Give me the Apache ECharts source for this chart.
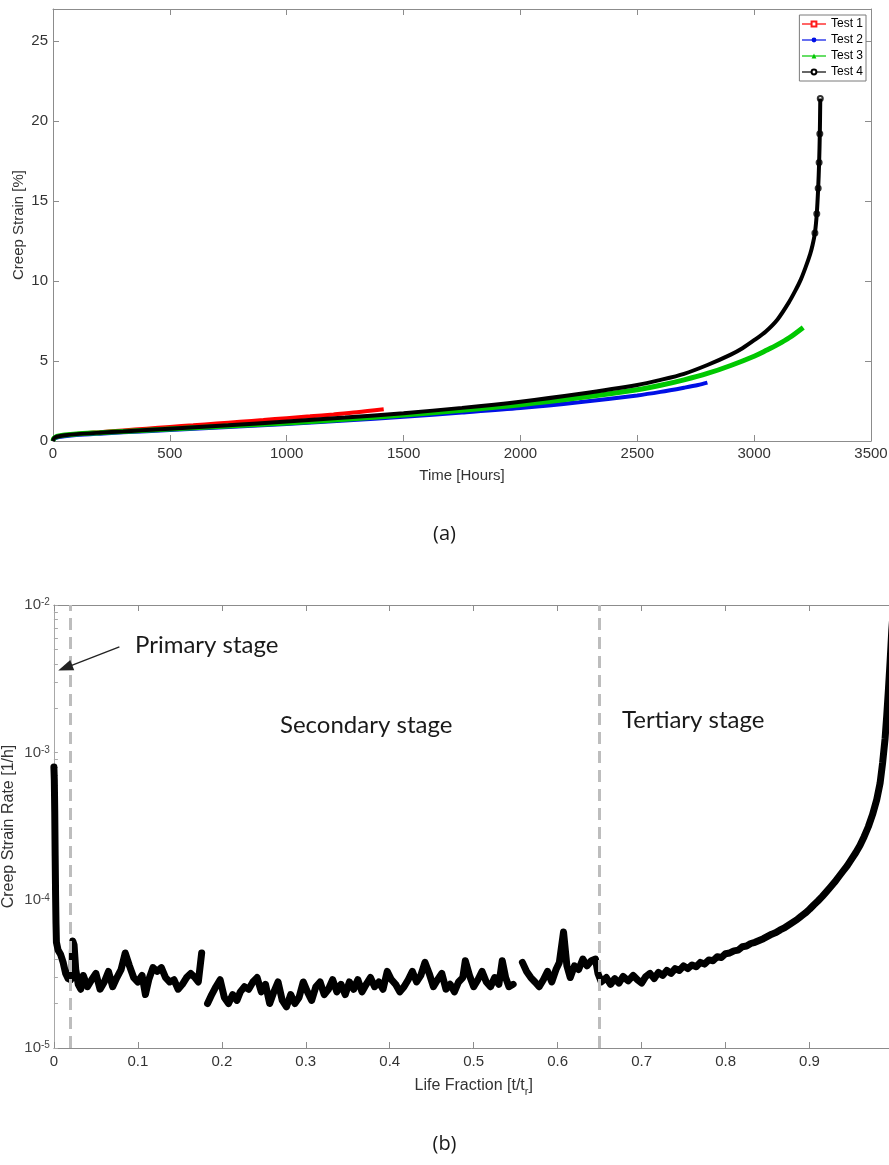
<!DOCTYPE html>
<html><head><meta charset="utf-8">
<script src="https://cdn.jsdelivr.net/npm/echarts@6/dist/echarts.min.js"></script>
<style>html,body{margin:0;padding:0;background:#fff}#c{width:889px;height:1165px}</style>
</head><body><div id="c"></div>
<script>
// ---------- (a) creep strain vs time ----------
const test1 = [[0,0],[3,0.12],[10,0.22],[25,0.3],[50,0.37],[100,0.44],[150,0.5],[200,0.55],[300,0.66],[400,0.77],[500,0.88],[600,0.98],[700,1.09],[800,1.2],[900,1.31],[1000,1.43],[1100,1.54],[1200,1.66],[1300,1.79],[1415,1.98]];
const test2 = [[0,0],[3,0.1],[10,0.18],[25,0.25],[50,0.3],[100,0.37],[200,0.46],[300,0.54],[500,0.69],[750,0.87],[1000,1.06],[1250,1.28],[1500,1.52],[1750,1.78],[2000,2.06],[2250,2.42],[2500,2.85],[2600,3.07],[2700,3.33],[2760,3.5],[2800,3.65]];
const test3 = [[0,0],[3,0.15],[10,0.24],[25,0.31],[50,0.37],[100,0.44],[200,0.52],[300,0.6],[500,0.75],[750,0.94],[1000,1.13],[1250,1.36],[1500,1.62],[1750,1.92],[2000,2.27],[2250,2.7],[2500,3.2],[2600,3.48],[2700,3.82],[2800,4.22],[2900,4.72],[3000,5.3],[3050,5.65],[3100,6.02],[3150,6.45],[3210,7.1]];
const test4 = [[0,0],[3,0.14],[10,0.23],[25,0.3],[50,0.36],[100,0.43],[200,0.52],[300,0.6],[500,0.77],[750,0.98],[1000,1.22],[1250,1.47],[1500,1.74],[1750,2.07],[2000,2.46],[2250,2.94],[2500,3.5],[2600,3.82],[2700,4.2],[2800,4.75],[2900,5.4],[2950,5.8],[3000,6.3],[3050,6.85],[3100,7.6],[3150,8.7],[3180,9.5],[3200,10.1],[3220,10.85],[3240,11.7],[3250,12.25],[3260,13.0],[3268,14.2],[3274,15.8],[3278,17.4],[3281,19.2],[3283,21.4]];
const timeTicks = [0,500,1000,1500,2000,2500,3000,3500];
const strainTicks = [0,5,10,15,20,25];

// ---------- (b) creep strain rate vs life fraction ----------
const primaryStage = [[0,8e-4],[0.0005,6.5e-4],[0.001,4e-4],[0.0015,2e-4],[0.002,1.1e-4],[0.0025,7e-5],[0.003,5.2e-5],[0.005,4.6e-5],[0.008,4.3e-5],[0.011,3.8e-5],[0.014,3.2e-5],[0.017,2.95e-5],[0.02,2.9e-5],[0.0215,3.0e-5],[0.022,4.5e-5],[0.0225,5.3e-5],[0.024,5.0e-5],[0.026,3.4e-5],[0.029,2.7e-5],[0.032,2.5e-5]];
const secondaryStage = [[0.035,3.1e-5],[0.04,2.6e-5],[0.045,2.9e-5],[0.05,3.2e-5],[0.055,2.5e-5],[0.06,2.8e-5],[0.065,3.3e-5],[0.07,2.6e-5],[0.075,3.0e-5],[0.08,3.4e-5],[0.085,4.4e-5],[0.09,3.6e-5],[0.095,3.0e-5],[0.1,2.8e-5],[0.105,3.1e-5],[0.109,2.3e-5],[0.113,2.9e-5],[0.118,3.5e-5],[0.123,3.3e-5],[0.128,3.5e-5],[0.133,3.0e-5],[0.138,2.8e-5],[0.143,2.9e-5],[0.148,2.5e-5],[0.153,2.7e-5],[0.158,3.0e-5],[0.163,3.2e-5],[0.168,3.0e-5],[0.172,2.8e-5],[0.176,4.4e-5],[0.178,'-'],[0.183,2.0e-5],[0.188,2.3e-5],[0.193,2.6e-5],[0.198,2.9e-5],[0.203,2.2e-5],[0.208,2.0e-5],[0.213,2.3e-5],[0.218,2.1e-5],[0.222,2.4e-5],[0.227,2.6e-5],[0.232,2.5e-5],[0.237,2.8e-5],[0.242,3.0e-5],[0.247,2.4e-5],[0.252,2.7e-5],[0.257,2.0e-5],[0.262,2.4e-5],[0.267,2.8e-5],[0.272,2.1e-5],[0.277,1.9e-5],[0.282,2.3e-5],[0.287,2.0e-5],[0.292,2.2e-5],[0.297,2.8e-5],[0.302,2.4e-5],[0.307,2.1e-5],[0.312,2.6e-5],[0.317,2.8e-5],[0.322,2.3e-5],[0.327,2.5e-5],[0.332,2.9e-5],[0.337,2.4e-5],[0.342,2.7e-5],[0.347,2.3e-5],[0.352,2.8e-5],[0.357,2.5e-5],[0.362,2.9e-5],[0.367,2.4e-5],[0.372,2.7e-5],[0.377,3.0e-5],[0.382,2.6e-5],[0.387,2.8e-5],[0.392,2.5e-5],[0.397,3.3e-5],[0.402,2.9e-5],[0.407,2.7e-5],[0.412,2.4e-5],[0.417,2.6e-5],[0.422,2.9e-5],[0.427,3.3e-5],[0.432,2.8e-5],[0.437,3.1e-5],[0.442,3.8e-5],[0.447,3.2e-5],[0.452,2.6e-5],[0.457,2.9e-5],[0.462,3.2e-5],[0.467,2.5e-5],[0.472,2.7e-5],[0.477,2.4e-5],[0.482,2.8e-5],[0.487,3.0e-5],[0.49,3.9e-5],[0.495,3.1e-5],[0.5,2.6e-5],[0.505,2.9e-5],[0.51,3.3e-5],[0.515,2.8e-5],[0.52,2.6e-5],[0.525,3.0e-5],[0.53,2.7e-5],[0.534,3.9e-5],[0.538,3.0e-5],[0.542,2.6e-5],[0.547,2.7e-5],[0.549,'-'],[0.552,4.3e-5],[0.555,'-'],[0.558,3.8e-5],[0.563,3.3e-5],[0.568,3.0e-5],[0.573,2.8e-5],[0.578,2.6e-5],[0.583,2.9e-5],[0.588,3.3e-5],[0.593,2.8e-5],[0.598,3.4e-5],[0.602,3.8e-5],[0.607,6.1e-5],[0.611,3.6e-5],[0.615,3.0e-5],[0.62,3.6e-5],[0.625,3.4e-5],[0.63,4.0e-5],[0.635,3.6e-5],[0.64,3.9e-5],[0.645,4.0e-5],[0.648,3.2e-5]];
const tertiaryStage = [[0.652,2.8e-5],[0.658,3.0e-5],[0.663,2.7e-5],[0.668,2.95e-5],[0.673,2.75e-5],[0.678,3.05e-5],[0.684,2.85e-5],[0.69,3.1e-5],[0.695,2.9e-5],[0.7,2.75e-5],[0.705,3.05e-5],[0.71,3.2e-5],[0.715,2.95e-5],[0.72,3.25e-5],[0.725,3.1e-5],[0.73,3.35e-5],[0.735,3.2e-5],[0.74,3.45e-5],[0.745,3.35e-5],[0.75,3.6e-5],[0.755,3.45e-5],[0.76,3.65e-5],[0.765,3.55e-5],[0.77,3.8e-5],[0.775,3.7e-5],[0.78,3.95e-5],[0.785,3.9e-5],[0.79,4.15e-5],[0.795,4.1e-5],[0.8,4.35e-5],[0.805,4.4e-5],[0.81,4.55e-5],[0.815,4.6e-5],[0.82,4.85e-5],[0.825,4.9e-5],[0.83,5.1e-5],[0.835,5.2e-5],[0.84,5.35e-5],[0.845,5.5e-5],[0.85,5.7e-5],[0.855,5.9e-5],[0.86,6.05e-5],[0.865,6.3e-5],[0.87,6.5e-5],[0.875,6.8e-5],[0.88,7.1e-5],[0.885,7.4e-5],[0.89,7.8e-5],[0.895,8.2e-5],[0.9,8.7e-5],[0.905,9.3e-5],[0.91,9.9e-5],[0.915,1.06e-4],[0.92,1.14e-4],[0.925,1.23e-4],[0.93,1.33e-4],[0.935,1.45e-4],[0.94,1.58e-4],[0.945,1.72e-4],[0.95,1.9e-4],[0.955,2.1e-4],[0.96,2.35e-4],[0.965,2.7e-4],[0.97,3.15e-4],[0.975,3.8e-4],[0.98,4.8e-4],[0.984,6.2e-4],[0.987,8.5e-4],[0.99,1.25e-3],[0.992,1.8e-3],[0.994,2.7e-3],[0.996,4.2e-3],[0.998,6.8e-3],[1.0,9.8e-3]];
const stageBounds = [0.02, 0.65];
const fractionTicks = [0,0.1,0.2,0.3,0.4,0.5,0.6,0.7,0.8,0.9,1];
const rateMajorTicks = [1e-5,1e-4,1e-3,1e-2];
const rateMinorTicks = [2e-5,3e-5,4e-5,5e-5,6e-5,7e-5,8e-5,9e-5,2e-4,3e-4,4e-4,5e-4,6e-4,7e-4,8e-4,9e-4,2e-3,3e-3,4e-3,5e-3,6e-3,7e-3,8e-3,9e-3];
const stageLabels = ['Primary stage','Secondary stage','Tertiary stage'];
const arrowFrom = [0.078, 5.2e-3];
const arrowTo = [0.0135, 3.75e-3];

const FONT = '"Liberation Sans", Arial, sans-serif';
const AX = '#8c8c8c';
const LBL = '#333333';

const chart = echarts.init(document.getElementById('c'));

function boxAxis(grid, pos, extra) {
  return Object.assign({
    gridIndex: grid, type: 'value', position: pos, nameMoveOverlap: false,
    axisLine: {show: true, onZero: false, lineStyle: {color: AX, width: 1}},
    axisTick: {show: true, inside: true, length: 6, lineStyle: {color: AX}},
    axisLabel: {show: false},
    splitLine: {show: false}
  }, extra);
}
const lblStyle = {fontFamily: FONT, fontSize: 15, color: LBL};

const option = {
  animation: false,
  backgroundColor: '#ffffff',
  grid: [
    {left: 53, right: 18, top: 9, bottom: 724, containLabel: false, outerBoundsMode: 'none'},
    {left: 53.9, right: -4.5, top: 605, bottom: 117, containLabel: false, outerBoundsMode: 'none'}
  ],
  xAxis: [
    boxAxis(0, 'bottom', {min: 0, max: 3500, interval: 500,
      name: 'Time [Hours]', nameLocation: 'middle', nameGap: 27,
      nameTextStyle: {fontFamily: FONT, fontSize: 15, color: LBL},
      axisLabel: Object.assign({show: true, margin: 5, formatter: v => String(v)}, lblStyle)}),
    boxAxis(0, 'top', {min: 0, max: 3500, interval: 500}),
    boxAxis(1, 'bottom', {min: 0, max: 1, interval: 0.1,
      name: '{n|Life Fraction [t/t}{r|r}{n|]}', nameLocation: 'middle', nameGap: 27,
      nameTextStyle: {rich: {
        n: {fontFamily: FONT, fontSize: 16, color: LBL, lineHeight: 22, verticalAlign: 'middle'},
        r: {fontFamily: FONT, fontSize: 11, color: LBL, lineHeight: 10, verticalAlign: 'bottom', padding: [12,0,0,0]}
      }},
      axisLabel: Object.assign({show: true, margin: 6, showMaxLabel: false, formatter: v => String(+v.toFixed(1))}, lblStyle)}),
    boxAxis(1, 'top', {min: 0, max: 1, interval: 0.1})
  ],
  yAxis: [
    boxAxis(0, 'left', {min: 0, max: 27, interval: 5,
      name: 'Creep Strain [%]', nameLocation: 'middle', nameGap: 27,
      nameTextStyle: {fontFamily: FONT, fontSize: 15, color: LBL},
      axisLabel: Object.assign({show: true, margin: 5, showMaxLabel: false}, lblStyle)}),
    boxAxis(0, 'right', {min: 0, max: 27, interval: 5}),
    {
      gridIndex: 1, type: 'log', logBase: 10, min: 1e-5, max: 1e-2, position: 'left',
      name: 'Creep Strain Rate [1/h]', nameLocation: 'middle', nameGap: 37, nameMoveOverlap: false,
      nameTextStyle: {fontFamily: FONT, fontSize: 16, color: LBL},
      axisLine: {show: true, onZero: false, lineStyle: {color: '#a8a8a8'}},
      axisTick: {show: true, inside: true, length: 4, lineStyle: {color: '#a8a8a8'},
        customValues: rateMajorTicks.concat(rateMinorTicks)},
      axisLabel: {show: true, margin: 4, customValues: rateMajorTicks,
        formatter: v => '{b|10}{s|' + Math.round(Math.log10(v)) + '}',
        rich: {
          b: {fontFamily: FONT, fontSize: 15, color: '#444', verticalAlign: 'bottom', lineHeight: 15, padding: [6,0,0,0]},
          s: {fontFamily: FONT, fontSize: 10, color: '#444', verticalAlign: 'top', lineHeight: 10}
        }},
      splitLine: {show: false}
    }
  ],
  legend: {
    orient: 'vertical', right: 23, top: 15,
    backgroundColor: '#ffffff', borderColor: '#7a7a7a', borderWidth: 1,
    padding: [2, 3, 2, 2], itemWidth: 24, itemHeight: 6, itemGap: 2, itemTextGap: 2,
    lineStyle: {width: 1.2},
    textStyle: {fontFamily: FONT, fontSize: 12, color: '#000', lineHeight: 14},
    data: ['Test 1', 'Test 2', 'Test 3', 'Test 4']
  },
  series: [
    {name: 'Test 1', type: 'line', xAxisIndex: 0, yAxisIndex: 0, data: test1, showSymbol: false,
      symbol: 'emptyRect', symbolSize: 4, smooth: 0.3,
      itemStyle: {color: '#ff1a1a'}, lineStyle: {color: '#ff0000', width: 4}},
    {name: 'Test 2', type: 'line', xAxisIndex: 0, yAxisIndex: 0, data: test2, showSymbol: false,
      symbol: 'circle', symbolSize: 4, smooth: 0.3,
      itemStyle: {color: '#0010e6'}, lineStyle: {color: '#0010e6', width: 4}},
    {name: 'Test 3', type: 'line', xAxisIndex: 0, yAxisIndex: 0, data: test3, showSymbol: false,
      symbol: 'triangle', symbolSize: 5, smooth: 0.3,
      itemStyle: {color: '#00c800'}, lineStyle: {color: '#00c800', width: 5}},
    {name: 'Test 4', type: 'line', xAxisIndex: 0, yAxisIndex: 0, data: test4, showSymbol: false,
      symbol: 'emptyCircle', symbolSize: 4, smooth: 0.3,
      itemStyle: {color: '#000'}, lineStyle: {color: '#000', width: 4}},
    {name: 'tail', type: 'scatter', xAxisIndex: 0, yAxisIndex: 0,
      data: test4.filter(p => p[1] >= 13), symbol: 'emptyCircle', symbolSize: 5,
      itemStyle: {color: '#000', borderColor: '#000', borderWidth: 1}},
    {name: 'rate', type: 'line', xAxisIndex: 2, yAxisIndex: 2,
      data: primaryStage.concat(secondaryStage, tertiaryStage),
      showSymbol: false, symbol: 'none', connectNulls: false,
      lineStyle: {color: '#000', width: 7, cap: 'round', join: 'round'},
      markLine: {
        silent: true, symbol: 'none', label: {show: false}, animation: false,
        data: [
          {xAxis: stageBounds[0], lineStyle: {color: '#bdbdbd', width: 3, type: [12, 7]}},
          {xAxis: stageBounds[1], lineStyle: {color: '#bdbdbd', width: 3, type: [12, 7]}},
          [
            {coord: arrowFrom, symbol: 'none', lineStyle: {color: '#222', width: 1.3, type: 'solid'}},
            {coord: arrowTo, symbol: 'triangle', symbolSize: [11, 15]}
          ]
        ]
      }
    }
  ],
  graphic: [
    {type: 'text', left: 135, top: 633, style: {text: stageLabels[0], font: '24px Lato, "Open Sans", sans-serif', fill: '#1a1a1a'}},
    {type: 'text', left: 280, top: 713, style: {text: stageLabels[1], font: '24px Lato, "Open Sans", sans-serif', fill: '#1a1a1a'}},
    {type: 'text', left: 622, top: 708, style: {text: stageLabels[2], font: '24px Lato, "Open Sans", sans-serif', fill: '#1a1a1a'}},
    {type: 'text', left: 'center', top: 524, style: {text: '(a)', font: '20px "Open Sans", sans-serif', fill: '#1a1a1a'}},
    {type: 'text', left: 'center', top: 1134, style: {text: '(b)', font: '20px "Open Sans", sans-serif', fill: '#1a1a1a'}}
  ]
};
chart.setOption(option);
</script>
</body></html>
